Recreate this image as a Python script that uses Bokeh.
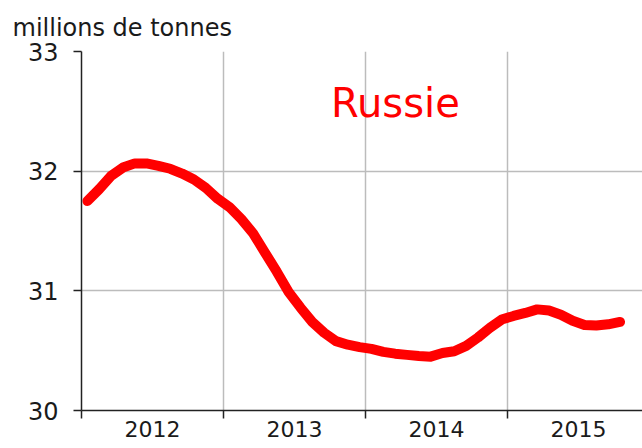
from bokeh.plotting import figure
from bokeh.models import FixedTicker, Label, Range1d
from bokeh.embed import file_html
from bokeh.resources import INLINE

# ---- data ----
year_ticks = [2012, 2013, 2014, 2015]
year_labels = ["2012", "2013", "2014", "2015"]
y_ticks = [30, 31, 32, 33]
series_name = "Russie"
unit_label = "millions de tonnes"

# monthly observations, Jan 2012 .. Oct 2015
months = [(2012 + i // 12, i % 12 + 1) for i in range(46)]
values = [
    31.75, 31.85, 31.96, 32.03, 32.065, 32.065, 32.045, 32.02, 31.98, 31.93, 31.86, 31.77,
    31.70, 31.60, 31.48, 31.32, 31.16, 30.99, 30.86, 30.74, 30.65, 30.58, 30.55, 30.53,
    30.515, 30.49, 30.475, 30.465, 30.455, 30.45, 30.48, 30.495, 30.54, 30.61, 30.69, 30.76,
    30.79, 30.815, 30.845, 30.835, 30.80, 30.75, 30.715, 30.71, 30.72, 30.74,
]

x = [yr + (m - 0.5) / 12 for (yr, m) in months]

FONT = "DejaVu Sans"
TXT = "#1a1a1a"

p = figure(width=642, height=448, output_backend="svg", toolbar_location=None,
           x_range=Range1d(2012, 2015.95), y_range=Range1d(30, 33),
           min_border_left=81, min_border_top=51, min_border_right=0,
           min_border_bottom=38,
           title=unit_label)
p.outline_line_color = None
p.background_fill_color = "white"
p.border_fill_color = "white"

# unit label as title at top-left
p.title.text_font = FONT
p.title.text_font_size = "24px"
p.title.text_font_style = "normal"
p.title.text_color = TXT
p.title.align = "left"
p.title.offset = -69
p.title.standoff = 20

# line
p.line(x, values, line_color="#ff0000", line_width=10, line_join="round", line_cap="round")

# grids
p.xgrid.ticker = FixedTicker(ticks=year_ticks[1:])
p.ygrid.ticker = FixedTicker(ticks=y_ticks[1:])
for g in (p.xgrid, p.ygrid):
    g.grid_line_color = "#bcbcbc"
    g.grid_line_width = 1.5

# x axis: labels at mid-year, tick marks at year boundaries
xa = p.xaxis[0]
mids = [yr + 0.5 for yr in year_ticks]
xa.ticker = FixedTicker(ticks=mids, minor_ticks=year_ticks)
xa.major_label_overrides = {m: lab for m, lab in zip(mids, year_labels)}
xa.major_tick_out = 0
xa.major_tick_in = 0
xa.major_tick_line_color = None
xa.minor_tick_out = 8
xa.minor_tick_in = 0
xa.minor_tick_line_color = "#222222"
xa.minor_tick_line_width = 1.5
xa.major_label_standoff = 2
xa.major_label_text_font = FONT
xa.major_label_text_font_size = "22px"
xa.major_label_text_color = TXT
xa.axis_line_color = "#222222"
xa.axis_line_width = 1.5

# y axis
ya = p.yaxis[0]
ya.ticker = FixedTicker(ticks=y_ticks)
ya.major_tick_out = 8
ya.major_tick_in = 0
ya.minor_tick_line_color = None
ya.major_label_standoff = 15
ya.major_label_text_font = FONT
ya.major_label_text_font_size = "24px"
ya.major_label_text_color = TXT
ya.axis_line_color = "#222222"
ya.axis_line_width = 1.5
ya.major_tick_line_color = "#222222"
ya.major_tick_line_width = 1.5

# series name
p.add_layout(Label(x=2014.21, y=32.57, text=series_name,
                   text_align="center", text_baseline="alphabetic",
                   text_font=FONT, text_font_size="40px", text_color="#ff0000"))

open("out.html", "w").write(file_html(p, INLINE))
